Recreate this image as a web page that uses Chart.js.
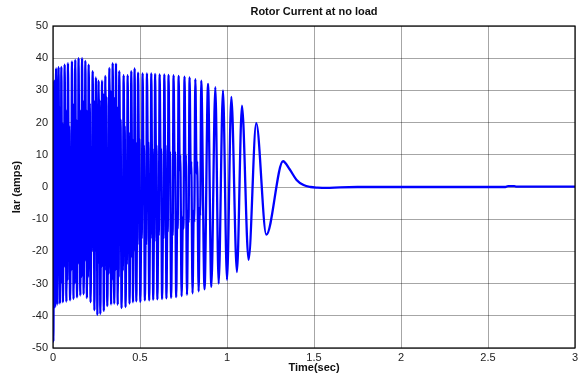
<!DOCTYPE html>
<html><head><meta charset="utf-8">
<script src="https://cdn.jsdelivr.net/npm/chart.js@4"></script>
<style>html,body{margin:0;padding:0;background:#fff}canvas{display:block}</style>
</head><body>
<canvas id="c" width="586" height="378"></canvas>
<script>
const titleText = "Rotor Current at no load";
const xLabel = "Time(sec)";
const yLabel = "Iar (amps)";
const xTicks = [0, 0.5, 1, 1.5, 2, 2.5, 3];
const yTicks = [-50, -40, -30, -20, -10, 0, 10, 20, 30, 40, 50];

// time (s) and rotor current (A) at the waveform's turning points
const time = [
  0, 0.002, 0.007, 0.012, 0.018,
  0.0208, 0.0219, 0.025, 0.0282, 0.0292, 0.032,
  0.0352, 0.0364, 0.040, 0.0436, 0.0448, 0.048,
  0.0516, 0.053, 0.057, 0.0615, 0.063, 0.067,
  0.071, 0.0725, 0.077, 0.081, 0.0824, 0.086,
  0.0908, 0.0926, 0.098, 0.103, 0.1046, 0.109,
  0.1126, 0.114, 0.118, 0.1225, 0.124, 0.128,
  0.132, 0.1335, 0.138, 0.142, 0.1434, 0.147,
  0.151, 0.1525, 0.157, 0.1615, 0.163, 0.167,
  0.1706, 0.172, 0.176, 0.1805, 0.182, 0.186,
  0.1896, 0.191, 0.195, 0.1995, 0.201, 0.205,
  0.2094, 0.211, 0.216, 0.2214, 0.2232, 0.228,
  0.232, 0.2335, 0.238, 0.242, 0.2434, 0.247,
  0.2502, 0.2514, 0.255, 0.2582, 0.2592, 0.262,
  0.266, 0.2675, 0.272, 0.2765, 0.278, 0.282,
  0.286, 0.2875, 0.292, 0.296, 0.2974, 0.301,
  0.3054, 0.307, 0.312, 0.3174, 0.3192, 0.324,
  0.328, 0.3295, 0.334, 0.338, 0.3394, 0.343,
  0.3466, 0.348, 0.352, 0.3565, 0.358, 0.362,
  0.366, 0.3675, 0.372, 0.376, 0.3774, 0.381,
  0.3862, 0.3882, 0.394, 0.3994, 0.4012, 0.406,
  0.4104, 0.412, 0.417, 0.4224, 0.4242, 0.429,
  0.4334, 0.435, 0.440, 0.4445, 0.446, 0.450,
  0.454, 0.4555, 0.460, 0.464, 0.4654, 0.469,
  0.473, 0.4745, 0.479, 0.4835, 0.485, 0.489,
  0.4942, 0.4962, 0.502, 0.5078, 0.5098, 0.515,
  0.5202, 0.5222, 0.528, 0.5334, 0.5352, 0.540,
  0.5452, 0.5472, 0.553, 0.5584, 0.5602, 0.565,
  0.5694, 0.571, 0.576, 0.581, 0.5826, 0.587,
  0.5922, 0.5942, 0.600, 0.6058, 0.6078, 0.613,
  0.6186, 0.6207, 0.627, 0.6328, 0.6348, 0.640,
  0.6448, 0.6466, 0.652, 0.6574, 0.6592, 0.664,
  0.670, 0.6723, 0.679, 0.6853, 0.6874, 0.693,
  0.699, 0.7013, 0.708, 0.7143, 0.7164, 0.722,
  0.7288, 0.7314, 0.739, 0.7467, 0.7492, 0.756,
  0.7616, 0.7637, 0.770, 0.7768, 0.779, 0.785,
  0.7918, 0.7944, 0.802, 0.8092, 0.8116, 0.818,
  0.8256, 0.8285, 0.837, 0.8438, 0.846, 0.852,
  0.871, 0.891, 0.910, 0.933, 0.952, 0.977,
  1.000, 1.025, 1.057, 1.086, 1.124, 1.168,
  1.226, 1.322, 1.360, 1.400, 1.440, 1.480,
  1.520, 1.570, 1.650, 1.750, 2.600, 2.615,
  2.650, 2.660, 3.000
];
const current = [
  0, -48, 33, -37.3, 36.8,
  4, 22, -36.5, -9, -26, 37.2,
  8, 25, -36.2, -14, -30, 37.3,
  1, 20, -35.8, -8, -25, 38,
  5, 24, -35.6, -13, -29, 38.5,
  0, 19, -35.2, -10, -26, 39,
  6, 26, -34.8, -14, -30, 39.5,
  2, 21, -34.3, -7, -24, 40,
  4, 24, -33.7, -12, -28, 40,
  8, 27, -33.3, -6, -23, 39.2,
  5, 24, -34.5, -12, -28, 38,
  8, 26, -35.8, -3, -20, 36,
  10, 27, -38.3, -2, -20, 34,
  9, 25, -39.7, -6, -24, 33,
  11, 27, -39.4, -8, -25, 33,
  14, 29, -38.5, -10, -26, 34.5,
  12, 28, -37, -12, -27, 37,
  15, 30, -36.5, -14, -29, 38.5,
  12, 28, -36.2, -10, -26, 38.3,
  8, 25, -36.6, -12, -28, 36,
  6, 21, -37.6, -12, -26, 34.7,
  5, 19, -37.3, -11, -24, 34.7,
  4, 17, -36.2, -10, -22, 36,
  9, 15, -35.8, -14, -20, 36.8,
  8, 14, -35.5, -12, -18, 35.5,
  10, 15, -35.7, -10, -16, 35.3,
  7, 13, -35.2, -12, -18, 35.3,
  9, 14, -35.2, -10, -16, 35.3,
  6, 12, -35, -12, -17, 35.1,
  8, 13, -34.9, -9, -15, 35,
  7, 12, -34.8, -11, -16, 35,
  8, 13, -34.6, -9, -14, 34.8,
  6, 11, -34.4, -10, -15, 34.7,
  7, 11, -34.2, -8, -13, 34.5,
  5, 10, -33.9, -9, -13, 34.3,
  6, 10, -33.5, -7, -11, 34,
  4, 8, -33, -7, -11, 33.5,
  4, 8, -32.4, -6, -9, 33,
  -31.8, 32, -31, 31, -30, 30,
  -28.8, 28, -26.4, 25.3, -22.6, 19.8,
  -14.8, 8, 5.5, 2.2, 0.6, 0,
  -0.2, -0.3, -0.1, 0, 0, 0.3,
  0.3, 0.1, 0.1
];

const points = time.map((t, i) => ({x: t, y: current[i]}));
const FONT = "'Liberation Sans', Arial, sans-serif";

const framePlugin = {
  id: 'frame',
  afterDraw(chart) {
    const {ctx, chartArea: a} = chart;
    ctx.save();
    ctx.strokeStyle = '#000';
    ctx.lineWidth = 1.2;
    ctx.strokeRect(a.left, a.top, a.right - a.left, a.bottom - a.top);
    ctx.fillStyle = '#111';
    ctx.font = "bold 11px " + FONT;
    ctx.textAlign = 'center';
    ctx.textBaseline = 'middle';
    ctx.fillText(titleText, (a.left + a.right) / 2, 12);
    ctx.fillText(xLabel, (a.left + a.right) / 2, 368);
    ctx.translate(17, (a.top + a.bottom) / 2);
    ctx.rotate(-Math.PI / 2);
    ctx.fillText(yLabel, 0, 0);
    ctx.restore();
  }
};

new Chart(document.getElementById('c'), {
  type: 'line',
  data: { datasets: [{
    data: points,
    borderColor: '#0000ff',
    borderWidth: 2.3,
    pointRadius: 0,
    fill: false,
    cubicInterpolationMode: 'monotone'
  }]},
  options: {
    responsive: false,
    animation: false,
    devicePixelRatio: 1,
    layout: { padding: { top: 26, right: 11, left: 0, bottom: 0 } },
    plugins: { legend: { display: false }, tooltip: { enabled: false }, title: { display: false } },
    scales: {
      x: {
        type: 'linear', min: 0, max: 3,
        afterBuildTicks(s) { s.ticks = xTicks.map(v => ({value: v})); },
        afterFit(s) { s.height = 30; },
        grid: { color: 'rgba(0,0,0,0.35)', lineWidth: 1, drawTicks: false },
        border: { display: false },
        ticks: { color: '#222', font: { size: 11, family: FONT }, padding: 3, maxRotation: 0,
          callback: v => String(v) }
      },
      y: {
        type: 'linear', min: -50, max: 50,
        afterBuildTicks(s) { s.ticks = yTicks.map(v => ({value: v})); },
        afterFit(s) { s.width = 53; },
        grid: { color: 'rgba(0,0,0,0.35)', lineWidth: 1, drawTicks: false },
        border: { display: false },
        ticks: { color: '#222', font: { size: 11, family: FONT }, padding: 5,
          callback: v => String(v) }
      }
    }
  },
  plugins: [framePlugin]
});
</script>
</body></html>
